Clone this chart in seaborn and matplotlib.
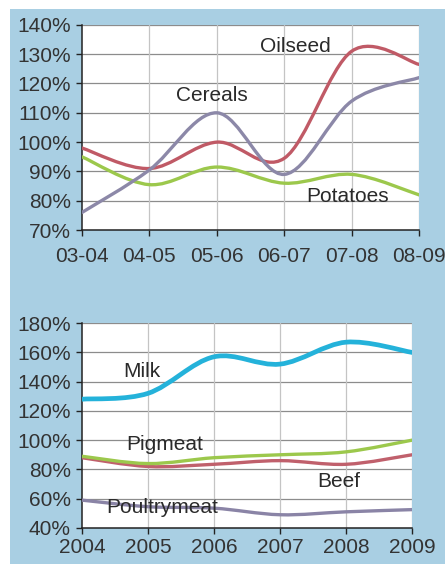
import numpy as np
import matplotlib
matplotlib.use("Agg")
import matplotlib.pyplot as plt
import seaborn as sns
from matplotlib.path import Path
from matplotlib.patches import PathPatch, Rectangle

# datos
seasons = ['03-04', '04-05', '05-06', '06-07', '07-08', '08-09']
cereals = [76, 90.5, 110, 89, 114, 122]
oilseed = [98, 91, 100, 94.5, 131, 126.5]
potatoes = [95, 85.5, 91.5, 86, 89, 82]

years = ['2004', '2005', '2006', '2007', '2008', '2009']
milk = [128, 132, 157, 152, 167, 160]
pigmeat = [89, 84, 88, 90, 92, 100]
beef = [88, 82, 83.5, 86, 83.5, 90]
poultry = [59, 54.5, 53.5, 49, 51, 52.5]

sns.set_theme(style='white')
plt.rcParams['font.family'] = ['Liberation Sans', 'DejaVu Sans']

bg = '#a9cfe3'


def smooth(ax, ys, color, lw):
    # curva suavizada tipo Excel (Bezier por los puntos)
    pts = np.column_stack([np.arange(len(ys)), ys]).astype(float)
    n = len(pts)
    verts = [pts[0]]
    codes = [Path.MOVETO]
    for i in range(n - 1):
        p0 = pts[max(i - 1, 0)]
        p1 = pts[i]
        p2 = pts[i + 1]
        p3 = pts[min(i + 2, n - 1)]
        verts += [p1 + (p2 - p0) / 6, p2 - (p3 - p1) / 6, p2]
        codes += [Path.CURVE4] * 3
    ax.add_patch(PathPatch(Path(verts, codes), fill=False, edgecolor=color,
                           lw=lw, capstyle='round', joinstyle='round',
                           transform=ax.transData, zorder=3))


def style(ax, labels, yt, xpad):
    ax.set_facecolor('white')
    ax.set_xlim(0, len(labels) - 1)
    ax.set_xticks(range(len(labels)))
    ax.set_xticklabels(labels)
    ax.set_yticks(yt)
    ax.set_yticklabels([f'{v}%' for v in yt])
    ax.set_ylim(yt[0], yt[-1])
    for v in yt[1:]:
        ax.axhline(v, color='#8c8c8c', lw=0.9, zorder=1)
    for i in range(1, len(labels)):
        ax.axvline(i, color='#c4c4c4', lw=0.9, zorder=1)
    for s in ['top', 'right']:
        ax.spines[s].set_visible(False)
    for s in ['left', 'bottom']:
        ax.spines[s].set_color('#222222')
        ax.spines[s].set_linewidth(1.1)
    ax.tick_params(axis='both', direction='out', length=4, width=1,
                   color='#222222', labelsize=15, labelcolor='#333333', pad=4,
                   left=True, bottom=True)
    ax.tick_params(axis='x', pad=xpad)


fig = plt.figure(figsize=(4.45, 5.64), dpi=100)
fig.patch.set_facecolor('white')
fig.add_artist(Rectangle((10 / 445, 0), 1, 1 - 9 / 564, transform=fig.transFigure,
                         facecolor=bg, edgecolor='none', zorder=-5))

ax1 = fig.add_axes([0.184, 0.592, 0.758, 0.364])
style(ax1, seasons, [70, 80, 90, 100, 110, 120, 130, 140], 8)
smooth(ax1, potatoes, '#9cc84c', 2.4)
smooth(ax1, oilseed, '#c05a66', 2.4)
smooth(ax1, cereals, '#8c88a8', 2.4)
tkw = dict(fontsize=15, color='#2a2a2a', ha='center', va='center', zorder=4)
ax1.text(3.17, 132.5, 'Oilseed', **tkw)
ax1.text(1.93, 116, 'Cereals', **tkw)
ax1.text(3.94, 81.5, 'Potatoes', **tkw)

ax2 = fig.add_axes([0.184, 0.064, 0.742, 0.363])
style(ax2, years, [40, 60, 80, 100, 120, 140, 160, 180], 3)
smooth(ax2, poultry, '#8a84a6', 2.4)
smooth(ax2, beef, '#c0606c', 2.4)
smooth(ax2, pigmeat, '#9cc84c', 2.4)
smooth(ax2, milk, '#24b2da', 3.4)
ax2.text(0.91, 147, 'Milk', **tkw)
ax2.text(1.26, 97, 'Pigmeat', **tkw)
ax2.text(3.89, 72, 'Beef', **tkw)
ax2.text(1.22, 54, 'Poultrymeat', **tkw)

fig.savefig('out.png', dpi=100, facecolor=fig.get_facecolor())
